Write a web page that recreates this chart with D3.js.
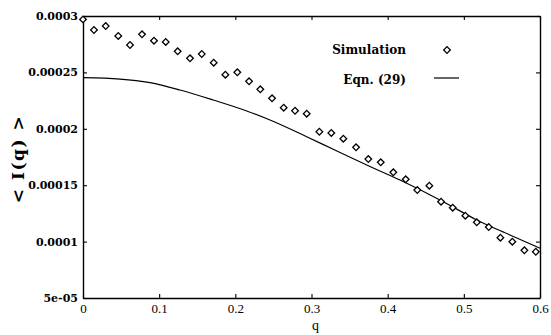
<!DOCTYPE html>
<html>
<head>
<meta charset="utf-8">
<script src="https://cdn.jsdelivr.net/npm/d3@7"></script>
<style>
  body { margin: 0; background: #fff; }
  svg { display: block; }
</style>
</head>
<body>
<svg id="chart" width="551" height="335"></svg>
<script>
// Simulation data (q, <I(q)>)
const simQ = [0.000, 0.0144, 0.0298, 0.0463, 0.0617, 0.0775, 0.0932, 0.1086, 0.1243, 0.1405, 0.1559, 0.1716, 0.1869, 0.2026, 0.2180, 0.2328, 0.2482, 0.2635, 0.2784, 0.2937, 0.3103, 0.3260, 0.3418, 0.3585, 0.3746, 0.3909, 0.4074, 0.4237, 0.4389, 0.4547, 0.4701, 0.4854, 0.5020, 0.5170, 0.5327, 0.5480, 0.5637, 0.5795, 0.5945];
const simI = [0.000297, 0.0002876, 0.0002911, 0.0002823, 0.0002743, 0.0002838, 0.0002781, 0.0002770, 0.0002687, 0.0002625, 0.0002663, 0.0002586, 0.0002480, 0.0002501, 0.0002421, 0.0002350, 0.0002270, 0.0002187, 0.0002160, 0.0002134, 0.0001974, 0.0001963, 0.0001912, 0.0001836, 0.0001732, 0.0001703, 0.0001614, 0.0001552, 0.0001457, 0.0001496, 0.0001354, 0.0001301, 0.0001230, 0.0001171, 0.0001129, 0.0001035, 0.0000999, 0.0000923, 0.0000910];

// Eqn. (29) curve
const eqnQ = [0.000, 0.0486, 0.0880, 0.1273, 0.1710, 0.2149, 0.2455, 0.2937, 0.3286, 0.3725, 0.4162, 0.4730, 0.5169, 0.5606, 0.6000];
const eqnI = [0.0002453, 0.0002441, 0.0002409, 0.0002344, 0.0002255, 0.0002158, 0.0002078, 0.0001930, 0.0001818, 0.0001679, 0.0001546, 0.0001354, 0.0001192, 0.0001059, 0.0000941];

const xTicks = [0, 0.1, 0.2, 0.3, 0.4, 0.5, 0.6];
const xTickLabels = ["0", "0.1", "0.2", "0.3", "0.4", "0.5", "0.6"];
const yTicks = [0.00005, 0.0001, 0.00015, 0.0002, 0.00025, 0.0003];
const yTickLabels = ["5e-05", "0.0001", "0.00015", "0.0002", "0.00025", "0.0003"];

const legendLabels = ["Simulation", "Eqn. (29)"];

const svg = d3.select("#chart");
const L = 83, R = 540, T = 16, B = 298;

const x = d3.scaleLinear().domain([0, 0.6]).range([L, R]);
const y = d3.scaleLinear().domain([0.00005, 0.0003]).range([B, T]);

const serif = "'DejaVu Serif', 'Liberation Serif', serif";

function styleAxis(g) {
  g.selectAll("path.domain").attr("stroke", "#000").attr("stroke-width", 1.4);
  g.selectAll(".tick line").attr("stroke", "#000").attr("stroke-width", 1.1);
}

// Bottom axis
const gB = svg.append("g").attr("transform", `translate(0,${B})`)
  .call(d3.axisBottom(x).tickValues(xTicks).tickFormat((d, i) => xTickLabels[i])
    .tickSizeInner(-4).tickSizeOuter(0).tickPadding(6));
styleAxis(gB);
gB.selectAll("text").attr("font-family", "'Liberation Serif', serif").attr("font-size", 13).attr("fill", "#000");

// Top axis
const gT = svg.append("g").attr("transform", `translate(0,${T})`)
  .call(d3.axisTop(x).tickValues(xTicks).tickFormat("").tickSizeInner(-4).tickSizeOuter(0));
styleAxis(gT);

// Left axis
const gL = svg.append("g").attr("transform", `translate(${L},0)`)
  .call(d3.axisLeft(y).tickValues(yTicks).tickFormat((d, i) => yTickLabels[i])
    .tickSizeInner(-4).tickSizeOuter(0).tickPadding(5));
styleAxis(gL);
gL.selectAll("text").attr("font-family", serif).attr("font-weight", "bold")
  .attr("font-size", 11).attr("fill", "#000");

// Right axis
const gR = svg.append("g").attr("transform", `translate(${R},0)`)
  .call(d3.axisRight(y).tickValues(yTicks).tickFormat("").tickSizeInner(-4).tickSizeOuter(0));
styleAxis(gR);

// Axis titles
svg.append("text").attr("x", (L + R) / 2 + 4).attr("y", 330)
  .attr("text-anchor", "middle").attr("font-family", "'Liberation Serif', serif")
  .attr("font-size", 14).text("q");

svg.append("text")
  .attr("transform", `translate(24,${(T + B) / 2 + 2}) rotate(-90)`)
  .attr("text-anchor", "middle").attr("font-family", serif).attr("font-weight", "bold")
  .attr("font-size", 17).attr("letter-spacing", 1.5).text("< I(q) >");

// Eqn curve
const eqnData = eqnQ.map((q, i) => [q, eqnI[i]]);
svg.append("path").datum(eqnData)
  .attr("fill", "none").attr("stroke", "#000").attr("stroke-width", 1.2)
  .attr("d", d3.line().x(d => x(d[0])).y(d => y(d[1])).curve(d3.curveMonotoneX));

// Simulation diamonds
const simData = simQ.map((q, i) => [q, simI[i]]);
const diamond = d3.symbol().type(d3.symbolSquare).size(22);
svg.append("g").selectAll("path").data(simData).join("path")
  .attr("d", diamond)
  .attr("transform", d => `translate(${x(d[0])},${y(d[1])}) rotate(45)`)
  .attr("fill", "#fff").attr("stroke", "#000").attr("stroke-width", 1.3);

// Legend
const legY = [50, 80];
legendLabels.forEach((lab, i) => {
  svg.append("text").attr("x", 406).attr("y", legY[i] + 4)
    .attr("text-anchor", "end").attr("font-family", serif).attr("font-weight", "bold")
    .attr("font-size", 12).text(lab);
});
svg.append("path").attr("d", diamond)
  .attr("transform", `translate(447,${legY[0]}) rotate(45)`)
  .attr("fill", "#fff").attr("stroke", "#000").attr("stroke-width", 1.3);
svg.append("line").attr("x1", 434).attr("x2", 459).attr("y1", legY[1] - 2).attr("y2", legY[1] - 2)
  .attr("stroke", "#000").attr("stroke-width", 1.2);
</script>
</body>
</html>
